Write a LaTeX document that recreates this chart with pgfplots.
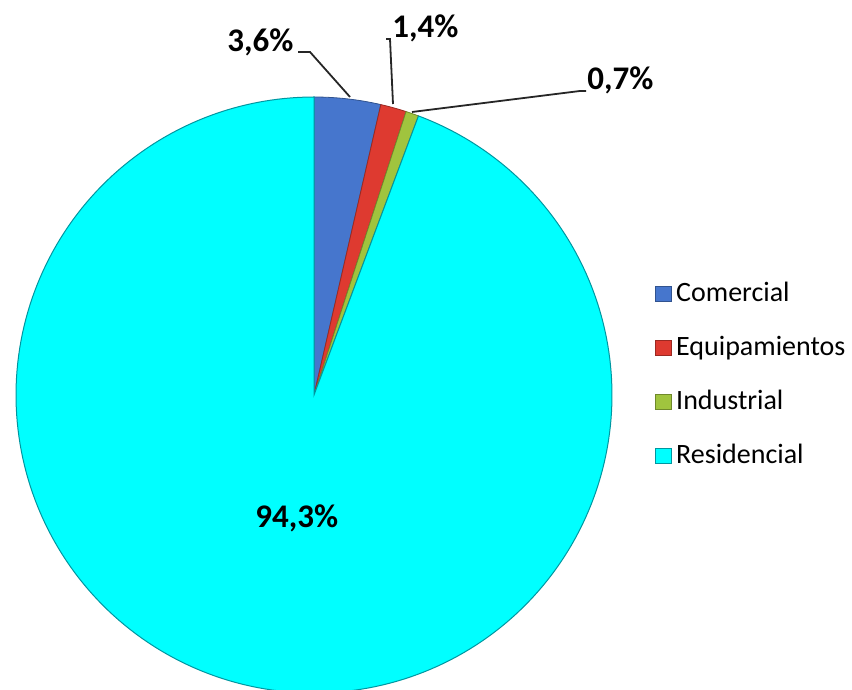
\documentclass[border=0pt]{standalone}
\usepackage{pgfplots}
\pgfplotsset{compat=1.18}
\usepackage{fontspec}
\setmainfont{Carlito}
\definecolor{cblue}{RGB}{70,118,205}
\definecolor{cred}{RGB}{222,58,48}
\definecolor{cgreen}{RGB}{160,196,62}
\definecolor{ccyan}{RGB}{0,255,255}
\begin{document}
\begin{tikzpicture}
\begin{axis}[
  scale only axis, width=426pt, height=345pt,
  xmin=0, xmax=852, ymin=0, ymax=690,
  hide axis, clip=false,
  legend style={at={(axis cs:655,412)}, anchor=north west, draw=none, fill=none,
    font=\fontsize{14}{15.5}\selectfont, row sep=11.8pt, inner sep=0pt,
    cells={anchor=west}},
  legend cell align=left,
  legend image code/.code={\draw[#1,line width=0.4pt] (0pt,-3.8pt) rectangle (8pt,3.8pt);},
]
% percentages: Comercial 3.6, Equipamientos 1.4, Industrial 0.7, Residencial 94.3
% angles (start at 90 deg, clockwise, 3.6 deg per percent)
\addplot[fill=cblue, draw=cblue!70!black, line width=0.4pt, domain=77.04:90, samples=30, variable=\t]
  ({314+298*cos(\t)}, {295+298*sin(\t)}) -- (axis cs:314,295) -- cycle;
\addlegendentry{Comercial}
\addplot[fill=cred, draw=cred!70!black, line width=0.4pt, domain=72.00:77.04, samples=15, variable=\t]
  ({314+298*cos(\t)}, {295+298*sin(\t)}) -- (axis cs:314,295) -- cycle;
\addlegendentry{Equipamientos}
\addplot[fill=cgreen, draw=cgreen!70!black, line width=0.4pt, domain=69.48:72.00, samples=10, variable=\t]
  ({314+298*cos(\t)}, {295+298*sin(\t)}) -- (axis cs:314,295) -- cycle;
\addlegendentry{Industrial}
\addplot[fill=ccyan, draw={rgb,255:red,0;green,150;blue,160}, line width=0.5pt, domain=-270:69.48, samples=240, variable=\t]
  ({314+298*cos(\t)}, {295+298*sin(\t)}) -- (axis cs:314,295) -- cycle;
\addlegendentry{Residencial}
% leader lines
\addplot[black!85, line width=0.9pt, forget plot] coordinates {(298,638) (310,638) (350,593)};
\addplot[black!85, line width=0.9pt, forget plot] coordinates {(386,651) (390,651) (393,586)};
\addplot[black!85, line width=0.9pt, forget plot] coordinates {(586,599) (580,599) (412,578)};
% labels
\node[anchor=base west, inner sep=0pt, font=\fontsize{16.5}{18}\selectfont\bfseries] at (axis cs:227,638) {3,6\%};
\node[anchor=base west, inner sep=0pt, font=\fontsize{16.5}{18}\selectfont\bfseries] at (axis cs:392,652) {1,4\%};
\node[anchor=base west, inner sep=0pt, font=\fontsize{16.5}{18}\selectfont\bfseries] at (axis cs:587,600) {0,7\%};
\node[anchor=base west, inner sep=0pt, font=\fontsize{16.5}{18}\selectfont\bfseries] at (axis cs:255,162) {94,3\%};
\end{axis}
\pgfresetboundingbox
\path (current axis.south west) rectangle (current axis.north east);
\end{tikzpicture}
\end{document}
